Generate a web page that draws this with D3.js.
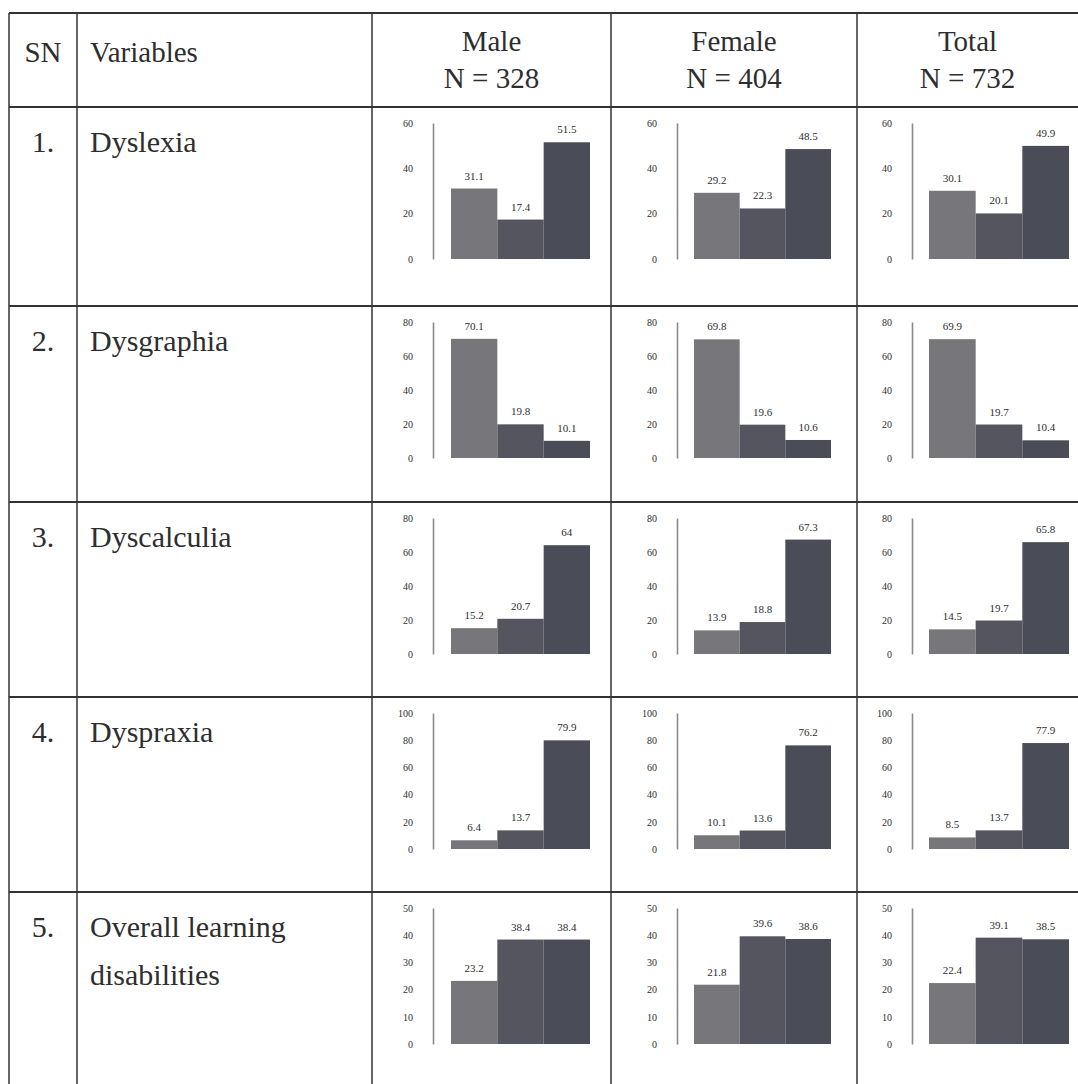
<!DOCTYPE html>
<html>
<head>
<meta charset="utf-8">
<script src="https://cdn.jsdelivr.net/npm/d3@7"></script>
<style>
  html, body { margin: 0; padding: 0; background: #fff; }
  svg { display: block; }
  text { font-family: "Liberation Serif", "Times New Roman", serif; fill: #2e2e2e; }
</style>
</head>
<body>
<svg id="chart" width="1078" height="1084"></svg>
<script>
// ---------- data ----------
const serialNumbers = ["1.", "2.", "3.", "4.", "5."];
const variables = [["Dyslexia"], ["Dysgraphia"], ["Dyscalculia"], ["Dyspraxia"], ["Overall learning", "disabilities"]];
const groups = ["Male", "Female", "Total"];
const groupN = ["N = 328", "N = 404", "N = 732"];
const maleValues   = [[31.1, 17.4, 51.5], [70.1, 19.8, 10.1], [15.2, 20.7, 64], [6.4, 13.7, 79.9], [23.2, 38.4, 38.4]];
const femaleValues = [[29.2, 22.3, 48.5], [69.8, 19.6, 10.6], [13.9, 18.8, 67.3], [10.1, 13.6, 76.2], [21.8, 39.6, 38.6]];
const totalValues  = [[30.1, 20.1, 49.9], [69.9, 19.7, 10.4], [14.5, 19.7, 65.8], [8.5, 13.7, 77.9], [22.4, 39.1, 38.5]];
const axisMax = [60, 80, 80, 100, 50];
const axisTicks = [[0, 20, 40, 60], [0, 20, 40, 60, 80], [0, 20, 40, 60, 80], [0, 20, 40, 60, 80, 100], [0, 10, 20, 30, 40, 50]];
const barKeys = ["a", "b", "c"];

// ---------- layout ----------
const colX = [9, 77, 372, 611, 857, 1078];
const rowY = [13, 107, 306, 502, 697, 892, 1084];
const axisOffset = [61, 66, 55];          // axis line x offset within each group column
const barRange = [[79, 218], [83, 220], [72, 212]];
const barColors = ["#77777b", "#55555f", "#4a4d58"];
const lineColor = "#333";

const svg = d3.select("#chart");
const allValues = [maleValues, femaleValues, totalValues];

// table lines
const hLines = rowY.slice(0, 6);
svg.selectAll("line.h").data(hLines).enter().append("line")
  .attr("x1", colX[0]).attr("x2", 1078)
  .attr("y1", d => d).attr("y2", d => d)
  .attr("stroke", lineColor).attr("stroke-width", 2);
svg.selectAll("line.v").data(colX.slice(0, 5)).enter().append("line")
  .attr("x1", d => d).attr("x2", d => d)
  .attr("y1", rowY[0]).attr("y2", 1084)
  .attr("stroke", lineColor).attr("stroke-width", 1.5);

// header
svg.append("text").attr("x", (colX[0] + colX[1]) / 2).attr("y", 62)
  .attr("text-anchor", "middle").attr("font-size", 29).text("SN");
svg.append("text").attr("x", 90).attr("y", 62)
  .attr("font-size", 29).text("Variables");
groups.forEach((g, i) => {
  const cx = (colX[i + 2] + colX[i + 3]) / 2;
  svg.append("text").attr("x", cx).attr("y", 51).attr("text-anchor", "middle")
    .attr("font-size", 29).text(g);
  svg.append("text").attr("x", cx).attr("y", 88).attr("text-anchor", "middle")
    .attr("font-size", 29).text(groupN[i]);
});

// rows
variables.forEach((lines, r) => {
  const top = rowY[r + 1];
  svg.append("text").attr("x", (colX[0] + colX[1]) / 2).attr("y", top + 45)
    .attr("text-anchor", "middle").attr("font-size", 30).text(serialNumbers[r]);
  lines.forEach((t, k) => {
    svg.append("text").attr("x", 90).attr("y", top + 45 + k * 48)
      .attr("font-size", 30).text(t);
  });

  const y = d3.scaleLinear().domain([0, axisMax[r]]).range([top + 152, top + 16]);

  groups.forEach((g, gi) => {
    const cx0 = colX[gi + 2];
    const ax = cx0 + axisOffset[gi];
    const x = d3.scaleBand().domain(barKeys)
      .range([cx0 + barRange[gi][0], cx0 + barRange[gi][1]]).padding(0);
    const vals = allValues[gi][r];

    const axisG = svg.append("g").attr("transform", `translate(${ax},0)`)
      .call(d3.axisLeft(y).tickValues(axisTicks[r]).tickSize(0).tickSizeOuter(0).tickPadding(20));
    axisG.select(".domain").attr("stroke", "#8a8a8a").attr("stroke-width", 1.6);
    axisG.selectAll(".tick text")
      .attr("font-family", "Liberation Serif, serif")
      .attr("font-size", 10).attr("fill", "#444");

    svg.selectAll(null).data(vals).enter().append("rect")
      .attr("x", (d, i) => x(barKeys[i]))
      .attr("width", x.bandwidth())
      .attr("y", d => y(d))
      .attr("height", d => y(0) - y(d))
      .attr("fill", (d, i) => barColors[i]);

    svg.selectAll(null).data(vals).enter().append("text")
      .attr("x", (d, i) => x(barKeys[i]) + x.bandwidth() / 2)
      .attr("y", d => y(d) - 9)
      .attr("text-anchor", "middle")
      .attr("font-size", 11).attr("fill", "#333")
      .text(d => String(d));
  });
});
</script>
</body>
</html>
